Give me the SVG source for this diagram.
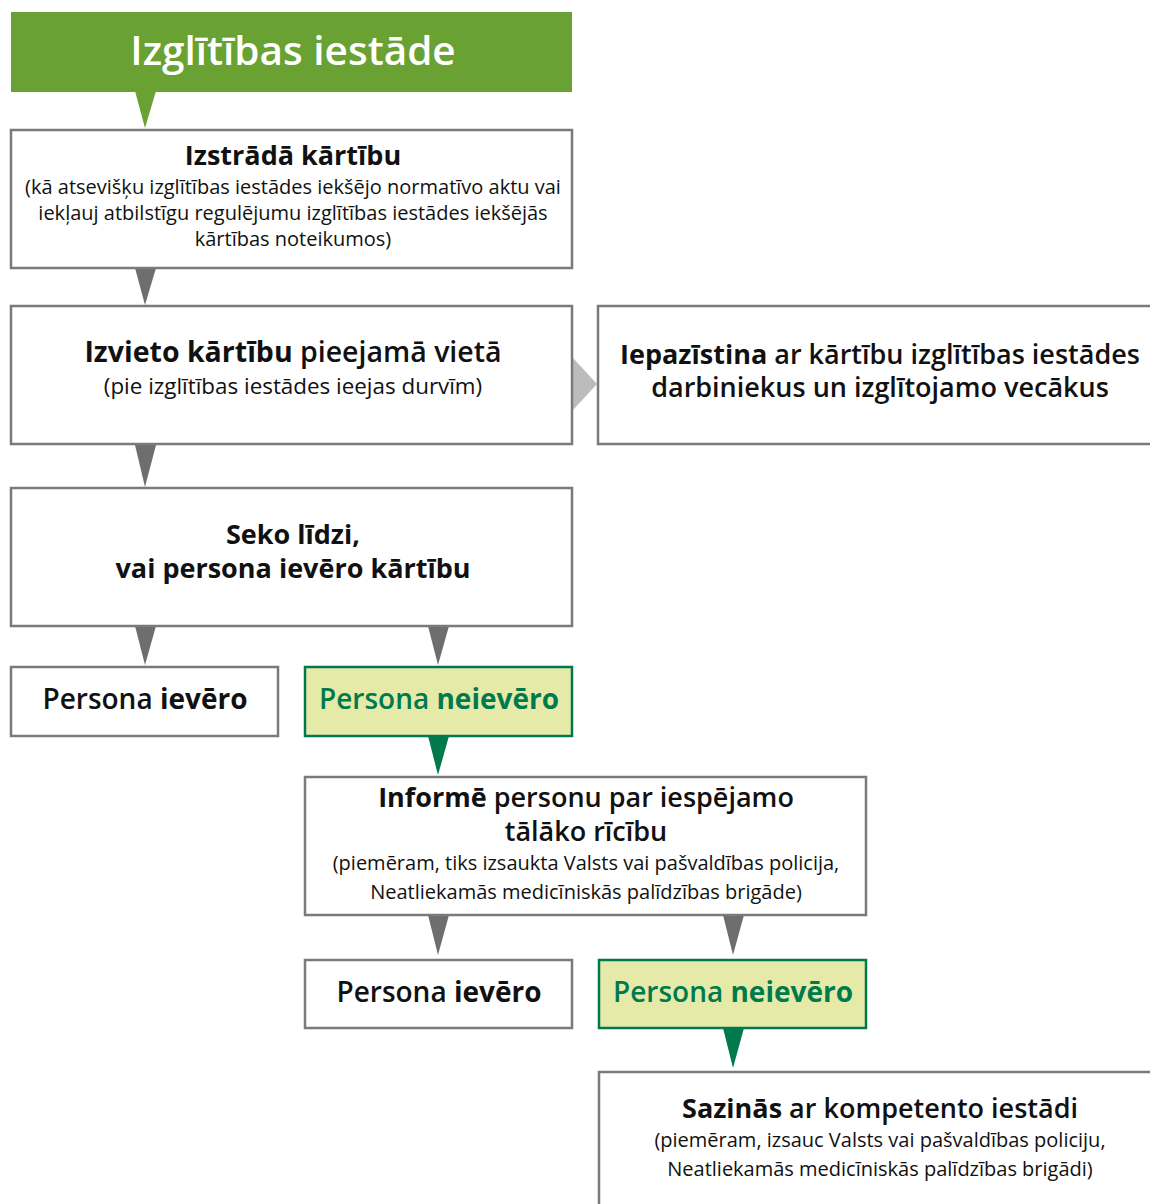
<svg xmlns="http://www.w3.org/2000/svg" width="1150" height="1204" viewBox="0 0 1150 1204">
<style>
text{font-family:"Open Sans",Lato,"Liberation Sans",sans-serif;text-anchor:middle;fill:#111}
.box{fill:#fff;stroke:#7a7a7a;stroke-width:2.5}
.gbox{fill:#e6eaa9;stroke:#007a4d;stroke-width:2.5}
.t{font-size:27px;font-weight:600}
.p{font-size:28px;font-weight:600}
.b{font-weight:700}
.s{font-size:20px;font-weight:400}
.g{fill:#007a4d}
.ga{fill:#007a4d}
.ka{fill:#6e6e6e}
</style>
<rect width="1150" height="1204" fill="#fff"/>
<g id="header">
<rect x="11" y="12" width="561" height="80" fill="#69a232"/>
<text x="293" y="65" style="font-size:40.5px;font-weight:600;fill:#fff">Izglītības iestāde</text>
</g>
<g id="connectors">
<polygon points="135,91 156,91 145,128" fill="#69a232"/>
<polygon class="ka" points="135,268 156,268 145,305"/>
<polygon class="ka" points="135,445 156,445 145,487"/>
<polygon points="573,358 573,410 597,384" fill="#bcbcbc"/>
<polygon class="ka" points="135,626 156,626 145,665"/>
<polygon class="ka" points="428,626 449,626 438,665"/>
<polygon class="ga" points="428,736 449,736 438,775"/>
<polygon class="ka" points="428,915 449,915 438,955"/>
<polygon class="ka" points="723,915 744,915 733,955"/>
<polygon class="ga" points="723,1028 744,1028 733,1068"/>
</g>
<g id="n1">
<rect class="box" x="11" y="130" width="561" height="138"/>
<text class="t b" x="293" y="165">Izstrādā kārtību</text>
<text class="s" x="293" y="194">(kā atsevišķu izglītības iestādes iekšējo normatīvo aktu vai<tspan x="293" dy="26">iekļauj atbilstīgu regulējumu izglītības iestādes iekšējās</tspan><tspan x="293" dy="26">kārtības noteikumos)</tspan></text>
</g>
<g id="n2">
<rect class="box" x="11" y="306" width="561" height="138"/>
<text class="t" x="293" y="362" style="font-size:28.5px"><tspan class="b">Izvieto kārtību</tspan> pieejamā vietā</text>
<text class="s" x="293" y="394" style="font-size:22.4px">(pie izglītības iestādes ieejas durvīm)</text>
</g>
<g id="n3">
<rect class="box" x="598" y="306" width="560" height="138"/>
<text class="t" x="880" y="364"><tspan class="b">Iepazīstina</tspan> ar kārtību izglītības iestādes<tspan x="880" dy="33">darbiniekus un izglītojamo vecākus</tspan></text>
</g>
<g id="n4">
<rect class="box" x="11" y="488" width="561" height="138"/>
<text class="t b" x="293" y="544">Seko līdzi,<tspan x="293" dy="34">vai persona ievēro kārtību</tspan></text>
</g>
<g id="n5">
<rect class="box" x="11" y="667" width="267" height="69"/>
<text class="p" x="145" y="709">Persona <tspan class="b">ievēro</tspan></text>
</g>
<g id="n6">
<rect class="gbox" x="305" y="667" width="267" height="69"/>
<text class="p g" x="439" y="709">Persona <tspan class="b g">neievēro</tspan></text>
</g>
<g id="n7">
<rect class="box" x="305" y="777" width="561" height="138"/>
<text class="t" x="586" y="807"><tspan class="b">Informē</tspan> personu par iespējamo<tspan x="586" dy="34">tālāko rīcību</tspan></text>
<text class="s" x="586" y="870">(piemēram, tiks izsaukta Valsts vai pašvaldības policija,<tspan x="586" dy="29">Neatliekamās medicīniskās palīdzības brigāde)</tspan></text>
</g>
<g id="n8">
<rect class="box" x="305" y="960" width="267" height="68"/>
<text class="p" x="439" y="1002">Persona <tspan class="b">ievēro</tspan></text>
</g>
<g id="n9">
<rect class="gbox" x="599" y="960" width="267" height="68"/>
<text class="p g" x="733" y="1002">Persona <tspan class="b g">neievēro</tspan></text>
</g>
<g id="n10">
<rect class="box" x="599" y="1072" width="560" height="140"/>
<text class="t" x="880" y="1118"><tspan class="b">Sazinās</tspan> ar kompetento iestādi</text>
<text class="s" x="880" y="1147">(piemēram, izsauc Valsts vai pašvaldības policiju,<tspan x="880" dy="29">Neatliekamās medicīniskās palīdzības brigādi)</tspan></text>
</g>
</svg>
